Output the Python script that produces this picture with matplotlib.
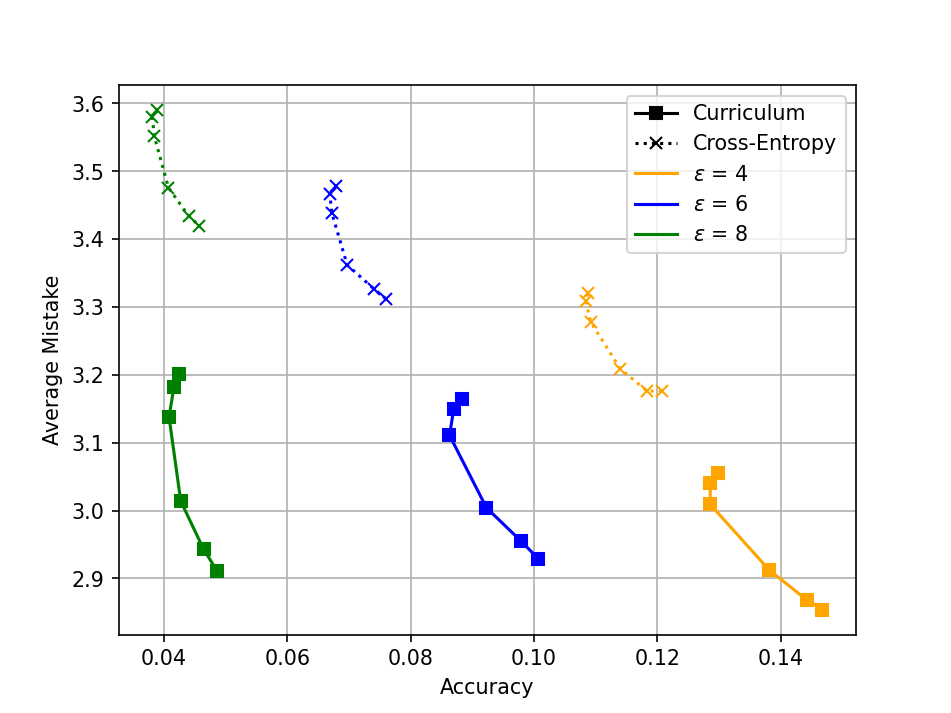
import matplotlib
matplotlib.use('Agg')
import matplotlib.pyplot as plt
from matplotlib.lines import Line2D

# Valores (accuracy, average mistake)
eps_values = [4, 6, 8]
colors = ['orange', 'blue', 'green']

curr_acc = {
    4: [0.1298, 0.1286, 0.1286, 0.1382, 0.1443, 0.1468],
    6: [0.0883, 0.0870, 0.0863, 0.0923, 0.0979, 0.1007],
    8: [0.0424, 0.0416, 0.0408, 0.0427, 0.0464, 0.0486],
}
curr_mistake = {
    4: [3.055, 3.041, 3.009, 2.912, 2.868, 2.854],
    6: [3.165, 3.150, 3.111, 3.004, 2.955, 2.929],
    8: [3.201, 3.182, 3.138, 3.014, 2.943, 2.911],
}
ce_acc = {
    4: [0.1087, 0.1084, 0.1092, 0.1140, 0.1184, 0.1207],
    6: [0.0679, 0.0669, 0.0672, 0.0697, 0.0740, 0.0760],
    8: [0.0389, 0.0381, 0.0384, 0.0407, 0.0440, 0.0457],
}
ce_mistake = {
    4: [3.320, 3.309, 3.278, 3.209, 3.176, 3.176],
    6: [3.478, 3.466, 3.439, 3.362, 3.327, 3.312],
    8: [3.590, 3.580, 3.552, 3.476, 3.434, 3.420],
}

fig, ax = plt.subplots(figsize=(6.4, 4.8), dpi=148.6)

for eps, c in zip(eps_values, colors):
    ax.plot(curr_acc[eps], curr_mistake[eps], color=c, linestyle='-', marker='s')
    ax.plot(ce_acc[eps], ce_mistake[eps], color=c, linestyle=':', marker='x')

handles = [
    Line2D([], [], color='black', linestyle='-', marker='s', label='Curriculum'),
    Line2D([], [], color='black', linestyle=':', marker='x', label='Cross-Entropy'),
]
for eps, c in zip(eps_values, colors):
    handles.append(Line2D([], [], color=c, label=r'$\varepsilon$ = %d' % eps))

ax.legend(handles=handles, loc='upper right')
ax.set_xlabel('Accuracy')
ax.set_ylabel('Average Mistake')
ax.grid(True)

fig.savefig('out.png', dpi=148.6)
